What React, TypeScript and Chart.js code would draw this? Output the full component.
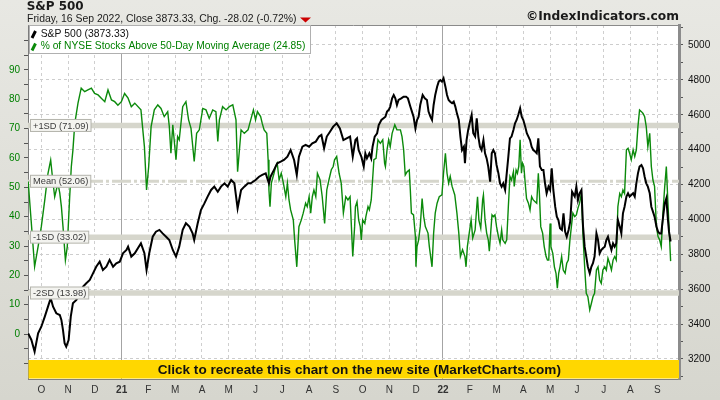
import { useEffect, useRef } from "react";
import { Chart, registerables } from "chart.js";

Chart.register(...registerables);

// x unit: months, 0 = start of Oct 2020 … 23 = start of Sep 2022
const monthLabels = ["O","N","D","21","F","M","A","M","J","J","A","S","O","N","D","22","F","M","A","M","J","J","A","S"];
const yearTickIndex = [3, 15];

const spxMonth = [
  -0.49,-0.37,-0.25,-0.12,0,0.13,0.25,0.35,0.44,0.56,0.69,0.75,0.81,0.87,0.93,1.02,1.1,1.18,1.31,1.43,1.56,1.68,1.81,1.93,2.05,2.18,2.3,2.43,2.55,2.68,2.8,2.93,3.05,3.18,3.24,3.36,3.49,
  3.72,3.85,3.93,4.03,4.16,4.28,4.41,4.53,4.66,4.78,4.91,5.03,5.15,5.28,5.4,5.53,5.65,5.71,5.84,5.96,6.09,6.21,6.34,6.46,6.59,6.71,6.84,6.96,7.09,7.21,7.33,7.46,7.58,7.72,
  7.82,8,8.13,8.25,8.38,8.5,8.56,8.69,8.81,8.94,9.06,9.19,9.31,9.44,9.54,9.62,9.75,9.87,10,10.12,10.25,10.37,10.46,10.56,10.66,10.78,10.9,11.03,11.15,11.28,11.4,11.53,11.63,
  11.73,11.79,11.85,11.95,12.04,12.1,12.16,12.25,12.32,12.37,12.45,12.54,12.6,12.7,12.78,12.85,12.91,12.97,13.03,13.1,13.16,13.22,13.28,13.34,13.44,13.53,13.62,13.69,13.78,13.84,13.9,13.97,14.03,14.09,14.15,14.24,14.32,14.4,14.46,14.53,14.59,14.65,14.71,14.78,14.84,14.9,14.96,15.02,15.09,15.15,15.21,15.27,15.34,15.4,15.46,15.52,15.59,15.65,15.71,15.78,
  15.82,15.88,15.94,16.01,16.07,16.13,16.2,16.26,16.32,16.38,16.44,16.51,16.57,16.63,16.69,16.76,16.82,16.88,16.94,17,17.07,17.13,17.19,17.25,17.32,17.38,17.44,17.5,17.56,17.63,17.69,17.75,17.81,17.88,17.94,18,18.07,18.13,18.19,18.25,18.31,18.37,18.44,18.5,18.56,18.62,18.69,18.75,18.81,18.87,18.94,19,19.06,19.12,19.19,19.25,19.31,19.37,19.44,19.5,19.56,19.62,19.69,19.75,19.82,
  19.92,19.98,20.04,20.1,20.17,20.23,20.29,20.35,20.41,20.48,20.54,20.6,20.66,20.73,20.79,20.85,20.91,20.97,21.04,21.1,21.16,21.22,21.29,21.35,21.41,21.47,21.53,21.6,21.66,21.72,21.78,21.85,21.91,21.97,22.03,22.1,22.16,22.22,22.28,22.34,22.41,22.47,22.53,22.59,22.65,22.72,22.78,22.84,22.9,22.97,23.03,23.09,23.15,23.22,23.28,23.34,23.4,23.44,23.5
];
const spxClose = [
  3347,3309,3242,3347,3385,3443,3500,3548,3500,3462,3452,3424,3366,3290,3271,3309,3443,3519,3538,3577,3615,3634,3653,3691,3729,3758,3710,3729,3768,3729,3749,3758,3806,3825,3844,3787,3806,
  3863,3806,3710,3806,3901,3930,3940,3920,3901,3882,3825,3787,3844,3940,3978,3959,3920,3882,3978,4054,4092,4131,4169,4188,4159,4188,4207,4188,4226,4207,4064,4169,4188,4207,
  4207,4226,4245,4255,4264,4207,4245,4284,4322,4331,4341,4360,4398,4341,4255,4360,4417,4427,4417,4436,4446,4475,4484,4408,4475,4503,4532,4551,4522,4455,4465,4475,4360,
  4455,4465,4398,4360,4303,4379,4350,4379,4350,4417,4475,4494,4541,4570,4580,4589,4618,4627,4647,4694,4713,4694,4656,4685,4694,4704,4704,4694,4647,4618,4589,4522,4570,4589,4656,4713,4694,4685,4618,4589,4570,4656,4713,4761,4790,4799,4790,4809,4761,4713,4685,4675,4666,4675,4647,4608,4570,4475,4398,4417,
  4322,4455,4513,4561,4599,4494,4475,4580,4475,4417,4398,4455,4379,4350,4303,4217,4379,4398,4379,4312,4264,4207,4188,4207,4169,4264,4360,4465,4475,4513,4551,4570,4599,4637,4589,4570,4532,4494,4475,4455,4417,4398,4389,4379,4465,4303,4284,4284,4207,4150,4188,4169,4293,4169,4073,4016,3997,3949,3940,4035,3930,3901,3940,3987,4159,
  4131,4188,4112,4150,4169,3959,3844,3787,3729,3691,3729,3749,3787,3920,3882,3806,3825,3835,3844,3882,3901,3863,3825,3863,3844,3863,3997,3959,3920,4035,4073,4131,4150,4131,4140,4150,4131,4207,4264,4303,4312,4293,4245,4207,4188,4150,4073,4045,4016,3959,3930,3920,3920,4016,4092,4121,3997,3930,3873.33
];

const nyseMonth = [
  -0.49,-0.25,-0.12,0,0.13,0.25,0.35,0.44,0.5,0.62,0.69,0.75,0.81,0.9,0.97,1.06,1.12,1.18,1.25,1.37,1.49,1.62,1.74,1.87,1.99,2.12,2.24,2.37,2.49,2.62,2.74,2.86,2.99,3.11,3.24,3.36,3.49,
  3.72,3.85,3.93,4.01,4.1,4.22,4.35,4.47,4.59,4.72,4.78,4.84,4.91,5.03,5.09,5.15,5.28,5.4,5.5,5.59,5.71,5.8,5.9,6.03,6.15,6.27,6.4,6.52,6.59,6.65,6.77,6.9,7.02,7.15,7.27,7.33,7.46,7.58,7.72,
  7.82,7.92,8,8.07,8.19,8.25,8.32,8.42,8.47,8.5,8.54,8.59,8.69,8.75,8.81,8.88,8.96,9.04,9.13,9.19,9.25,9.31,9.41,9.46,9.54,9.62,9.71,9.78,9.87,9.93,10,10.06,10.12,10.18,10.25,10.31,10.41,10.49,10.58,10.66,10.74,10.83,10.9,10.95,11.03,11.12,11.2,11.28,11.37,11.45,11.53,11.58,11.63,11.7,
  11.73,11.79,11.85,11.91,11.95,12,12.08,12.12,12.2,12.25,12.32,12.37,12.42,12.5,12.57,12.66,12.75,12.82,12.85,12.91,12.97,13.03,13.1,13.2,13.28,13.41,13.47,13.53,13.59,13.66,13.74,13.78,13.82,13.9,13.97,13.99,14.03,14.09,14.15,14.22,14.28,14.34,14.44,14.49,14.59,14.65,14.71,14.78,14.86,14.96,15.02,15.09,15.15,15.21,15.27,15.34,15.44,15.52,15.59,15.65,15.73,
  15.82,15.86,15.91,15.98,16.05,16.11,16.2,16.26,16.29,16.34,16.41,16.48,16.51,16.57,16.63,16.69,16.73,16.78,16.83,16.88,16.94,17,17.07,17.13,17.19,17.23,17.32,17.38,17.44,17.5,17.56,17.63,17.66,17.73,17.78,17.83,17.88,17.93,17.97,18.02,18.07,18.12,18.19,18.25,18.31,18.37,18.44,18.5,18.56,18.6,18.65,18.72,18.78,18.85,18.9,18.95,19,19.03,19.1,19.16,19.22,19.27,19.32,19.37,19.43,19.49,19.56,19.62,19.68,19.74,
  19.85,19.92,19.98,20.04,20.1,20.17,20.23,20.29,20.35,20.41,20.48,20.54,20.6,20.66,20.73,20.79,20.85,20.91,20.97,21.04,21.1,21.16,21.22,21.29,21.35,21.41,21.47,21.53,21.6,21.66,21.72,21.78,21.85,21.91,21.97,22.03,22.1,22.16,22.22,22.28,22.34,22.41,22.47,22.53,22.59,22.65,22.72,22.78,22.84,22.9,22.97,23.03,23.09,23.15,23.22,23.28,23.34,23.4,23.44,23.5
];
const nyseAbove50 = [
  52,23,29.8,36.6,45.7,54.8,59.3,51.4,46.8,51.4,48,43.4,36.6,25.2,29.8,46.8,57,62.7,71.8,78.7,83.8,82.6,83.2,83.8,82,81.5,80.4,79.2,83.2,79.8,79.2,78,79.2,82,80.4,77.5,78.7,
  76.4,63.9,49.1,57.1,70.7,76.4,78.1,76.9,74.1,75.8,70.7,61.6,71.3,59.4,67.3,66.2,77.5,79.2,73,70.1,58.8,68.4,69.6,76.9,76.4,73.5,76.4,75.8,65.6,73,77.5,76.4,77.5,78.1,73,55.3,69.6,68.4,69.6,
  73,76.4,73,75.8,74.1,71.8,69.6,68.4,59.4,49.1,43.4,51.4,54.8,57.1,58.2,52.5,54.8,51.4,46.8,51.4,45.7,42.3,38.9,32.1,22.9,36.6,38.9,41.2,44.6,43.4,46.8,41.2,46.8,49.1,46.8,54.8,52.5,46.8,37.7,49.1,52.5,56,57.1,59.4,60.5,54.8,51.4,41.2,46.8,45.7,46.8,36.6,26.4,36.6,
  43.4,45.1,38.9,36.6,32.1,38.9,37.7,40,43.4,42.3,45.7,52.5,59.4,59.9,66.2,65,66.2,58.2,57.1,62.8,66.2,63.9,68.4,71.3,69.6,69.6,67.3,62.8,54.2,55.3,55.9,49.1,41.2,40.6,33.2,22.9,29.8,32.1,36.6,46.2,40,36.6,34.4,29.8,22.9,34.4,41.2,44.6,46.8,47.4,54.8,61.6,54.8,51.4,53.7,50.3,47.4,41.2,34.4,26.4,28.7,
  26.4,22.9,29.8,34.4,38.9,32.7,35.5,43.4,46.8,38.9,36.1,45.7,47.4,38.9,34.4,32.1,28.2,34.4,40.6,40,40.6,36.6,33.2,30.9,35.5,32.1,30.9,32.1,43.4,53.7,52.5,55.3,50.3,55.9,54.8,57.1,66.2,54.8,58.2,57.1,51.4,46.2,44.6,42.3,46.8,45.7,45.1,44.6,54.8,47.9,36.6,34.4,29.8,26.4,25.2,25.2,37.7,29.8,27.5,22.9,20.7,15.6,20.7,22.9,26.4,21.8,20.7,24.1,25.2,32.1,
  41.2,40,40.6,42.9,44.6,47.9,33.2,22.9,13.9,12.7,8.2,10.4,12.7,13.9,21.8,22.9,18.4,17.3,21.8,22.9,21.8,25.8,24.1,21.8,25.2,26.4,25.2,43.4,47.9,46.8,49.1,47.9,62.8,63.3,61.6,59.4,62.8,60.5,62.8,70.7,76.4,75.8,75.2,74.1,70.7,63.9,68.4,57.1,52.5,50.3,36.6,33.2,32.1,29.8,42.3,50.3,57.1,44.6,36.6,24.85
];

const bandValues = [71.09, 52.06, 33.02, 13.98];
const bandNames = ["+1SD", "Mean", "-1SD", "-2SD"];

const pctTicks = [-10,-5,0,5,10,15,20,25,30,35,40,45,50,55,60,65,70,75,80,85,90,95,100];
const spxTicks = [3100,3200,3300,3400,3500,3600,3700,3800,3900,4000,4100,4200,4300,4400,4500,4600,4700,4800,4900,5000,5100];

const titleText = "S&P 500";
const subtitleText = "Friday, 16 Sep 2022, Close 3873.33, Chg. -28.02 (-0.72%)";
const siteText = "\u00A9IndexIndicators.com";
const bannerText = "Click to recreate this chart on the new site (MarketCharts.com)";

const X_MIN = -0.497, X_MAX = 23.813;
const Y_MIN = -15.34, Y_MAX = 105.34;
const Y2_MIN = 3085.3, Y2_MAX = 5114.6;

const REG = "'Liberation Sans', Arial, sans-serif";
const BOLD = "'DejaVu Sans', Verdana, sans-serif";
const GREEN_LINE = "#0b8a0b";
const GREEN_TEXT = "#008000";

function fitText(ctx: CanvasRenderingContext2D, text: string, x: number, y: number, width: number, weight: string, family: string, color: string, align: CanvasTextAlign = "left") {
  ctx.save();
  ctx.font = `${weight} 10px ${family}`;
  const w = ctx.measureText(text).width;
  const size = (10 * width) / w;
  ctx.font = `${weight} ${size.toFixed(2)}px ${family}`;
  ctx.fillStyle = color;
  ctx.textBaseline = "middle";
  ctx.textAlign = align;
  ctx.fillText(text, x, y);
  ctx.restore();
}

const decorPlugin = {
  id: "decor",
  beforeDraw(chart: any) {
    const { ctx, chartArea: a, width, height } = chart;
    ctx.save();
    const g = ctx.createLinearGradient(0, 0, 0, height);
    g.addColorStop(0, "#e8e8e3");
    g.addColorStop(1, "#d6d6ce");
    ctx.fillStyle = g;
    ctx.fillRect(0, 0, width, height);
    ctx.fillStyle = "#ffffff";
    ctx.fillRect(a.left, a.top, a.right - a.left, a.bottom - a.top);
    ctx.restore();
  },
  beforeDatasetsDraw(chart: any) {
    const { ctx, chartArea: a } = chart;
    const ys = chart.scales.y;
    ctx.save();
    ctx.beginPath();
    ctx.rect(a.left, a.top, a.right - a.left, a.bottom - a.top);
    ctx.clip();
    bandValues.forEach((v, i) => {
      const py = ys.getPixelForValue(v);
      ctx.strokeStyle = "#d6d6cc";
      if (bandNames[i] === "Mean") {
        ctx.lineWidth = 3;
        ctx.setLineDash([19, 3, 3, 3]);
      } else {
        ctx.lineWidth = 5.5;
        ctx.setLineDash([]);
      }
      ctx.beginPath();
      ctx.moveTo(a.left, py);
      ctx.lineTo(a.right, py);
      ctx.stroke();
    });
    ctx.restore();
  },
  afterDatasetsDraw(chart: any) {
    const { ctx, chartArea: a } = chart;
    const ys = chart.scales.y;
    ctx.save();
    // band labels
    ctx.font = `9.3px ${REG}`;
    bandValues.forEach((v, i) => {
      const py = ys.getPixelForValue(v);
      const label = `${bandNames[i]} (${v.toFixed(2)})`;
      const tw = ctx.measureText(label).width;
      ctx.fillStyle = "#f3f3ef";
      ctx.fillRect(30.5, py - 6, tw + 5, 12);
      ctx.strokeStyle = "#b4b4ac";
      ctx.lineWidth = 1;
      ctx.strokeRect(30.5, py - 6, tw + 5, 12);
      ctx.fillStyle = "#3a3a3a";
      ctx.textBaseline = "middle";
      ctx.textAlign = "left";
      ctx.fillText(label, 33, py + 0.5);
    });
    // top border
    ctx.strokeStyle = "#8a8a8a";
    ctx.lineWidth = 1;
    ctx.beginPath();
    ctx.moveTo(a.left, a.top + 0.5);
    ctx.lineTo(a.right, a.top + 0.5);
    ctx.stroke();
    // legend box
    ctx.fillStyle = "#ffffff";
    ctx.fillRect(29.5, 25.5, 281, 28);
    ctx.strokeStyle = "#b0b0b0";
    ctx.strokeRect(29.5, 25.5, 281, 28);
    ctx.lineWidth = 3;
    ctx.strokeStyle = "#000";
    ctx.beginPath(); ctx.moveTo(32, 38); ctx.lineTo(35.5, 31); ctx.stroke();
    ctx.strokeStyle = GREEN_LINE;
    ctx.beginPath(); ctx.moveTo(32, 50.5); ctx.lineTo(35.5, 43.5); ctx.stroke();
    fitText(ctx, `S&P 500 (${spxClose[spxClose.length - 1].toFixed(2)})`, 40.7, 34, 88.3, "normal", REG, "#111");
    fitText(ctx, `% of NYSE Stocks Above 50-Day Moving Average (${nyseAbove50[nyseAbove50.length - 1].toFixed(2)})`, 40.7, 46, 265, "normal", REG, GREEN_TEXT);
    // banner
    ctx.fillStyle = "#ffd700";
    ctx.fillRect(a.left + 0.5, 360, a.right - a.left - 0.5, a.bottom - 360 - 0.5);
    fitText(ctx, bannerText, 359.3, 369.8, 403.5, "bold", REG, "#111", "center");
    ctx.restore();
  },
  afterDraw(chart: any) {
    const { ctx } = chart;
    fitText(ctx, titleText, 26.7, 6.8, 57, "bold", BOLD, "#1a1a1a");
    fitText(ctx, subtitleText, 27, 18.8, 270, "normal", REG, "#1a1a1a");
    ctx.save();
    ctx.fillStyle = "#cc0000";
    ctx.beginPath();
    ctx.moveTo(300, 17.5); ctx.lineTo(311, 17.5); ctx.lineTo(305.5, 22.5); ctx.closePath();
    ctx.fill();
    ctx.restore();
    fitText(ctx, siteText, 679, 17.2, 153, "bold", BOLD, "#1a1a1a", "right");
  }
};

export default function App() {
  const ref = useRef<HTMLCanvasElement | null>(null);
  useEffect(() => {
    if (!ref.current) return;
    const isYear = (c: any) => !!(c && c.tick && yearTickIndex.includes(c.tick.value));
    const chart = new Chart(ref.current, {
      type: "line",
      data: {
        datasets: [
          {
            label: "S&P 500",
            data: spxMonth.map((m, i) => ({ x: m, y: spxClose[i] })),
            yAxisID: "y2",
            borderColor: "#000000",
            borderWidth: 2,
            pointRadius: 0,
            tension: 0
          },
          {
            label: "% of NYSE Stocks Above 50-Day Moving Average",
            data: nyseMonth.map((m, i) => ({ x: m, y: nyseAbove50[i] })),
            yAxisID: "y",
            borderColor: GREEN_LINE,
            borderWidth: 1.4,
            pointRadius: 0,
            tension: 0
          }
        ]
      },
      options: {
        responsive: false,
        animation: false,
        events: [],
        layout: { padding: { top: 25, left: 0, right: 0, bottom: 0 } },
        plugins: { legend: { display: false }, tooltip: { enabled: false } },
        scales: {
          x: {
            type: "linear",
            bounds: "data",
            min: X_MIN,
            max: X_MAX,
            afterBuildTicks: (s: any) => { s.ticks = monthLabels.map((_, i) => ({ value: i })); },
            afterFit: (s: any) => { s.height = 21; },
            ticks: {
              autoSkip: false,
              maxRotation: 0,
              minRotation: 0,
              padding: 5,
              color: "#333",
              font: (c: any) => ({ family: REG, size: 10, weight: isYear(c) ? "bold" : "normal" }),
              callback: (v: any) => monthLabels[v] ?? ""
            },
            grid: {
              drawTicks: false,
              lineWidth: 1,
              color: (c: any) => (isYear(c) ? "#a4a4a4" : "#cfcfcf")
            },
            border: {
              display: true,
              color: "#808080",
              width: 1,
              dash: (c: any) => (isYear(c) ? [] : [3, 3])
            }
          },
          y: {
            type: "linear",
            position: "left",
            bounds: "data",
            min: Y_MIN,
            max: Y_MAX,
            afterBuildTicks: (s: any) => { s.ticks = pctTicks.map((v) => ({ value: v })); },
            afterFit: (s: any) => { s.width = 28; },
            ticks: {
              autoSkip: false,
              padding: 4,
              color: GREEN_TEXT,
              font: { family: REG, size: 10 },
              callback: (v: any) => (v % 10 === 0 && v >= 0 && v <= 90 ? String(v) : "")
            },
            grid: { drawOnChartArea: false, tickLength: 4, tickColor: "#555", color: "#555" },
            border: { display: true, color: "#7c7c7c", width: 1 }
          },
          y2: {
            type: "linear",
            position: "right",
            bounds: "data",
            min: Y2_MIN,
            max: Y2_MAX,
            afterBuildTicks: (s: any) => { s.ticks = spxTicks.map((v) => ({ value: v })); },
            afterFit: (s: any) => { s.width = 41; },
            ticks: {
              autoSkip: false,
              padding: 5,
              color: "#111",
              font: { family: REG, size: 10 },
              callback: (v: any) => (v % 200 === 0 && v >= 3200 && v <= 5000 ? String(v) : "")
            },
            grid: {
              drawOnChartArea: true,
              tickLength: 4,
              tickColor: "#555",
              lineWidth: 1,
              color: (c: any) => {
                const v = c && c.tick ? c.tick.value : NaN;
                return v % 200 === 0 && v >= 3200 && v <= 5000 ? "#cdcdcd" : "rgba(0,0,0,0)";
              }
            },
            border: { display: true, color: "#8c8c8c", width: 3, dash: [3, 3] }
          }
        }
      } as any,
      plugins: [decorPlugin]
    });
    return () => chart.destroy();
  }, []);
  return (
    <div style={{ position: "absolute", left: 0, top: 0, width: 720, height: 400 }}>
      <canvas ref={ref} width={720} height={400} style={{ display: "block", width: 720, height: 400 }} />
    </div>
  );
}
